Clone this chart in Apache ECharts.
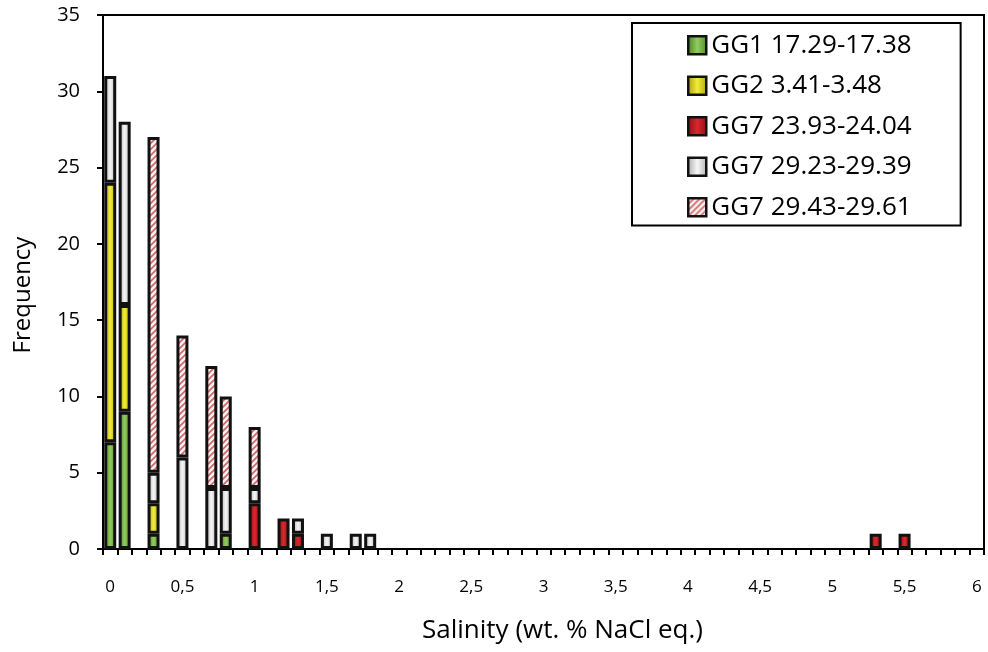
<!DOCTYPE html>
<html>
<head>
<meta charset="utf-8">
<script src="https://cdn.jsdelivr.net/npm/echarts@6/dist/echarts.min.js"></script>
<style>
html,body{margin:0;padding:0;background:#fff;}
#chart{width:988px;height:652px;}
</style>
</head>
<body>
<div id="chart"></div>
<script>
// x-axis categories (salinity bins, wt.% NaCl eq.)
const categories = [
  '0','0,1','0,2','0,3','0,4','0,5','0,6','0,7','0,8','0,9',
  '1','1,1','1,2','1,3','1,4','1,5','1,6','1,7','1,8','1,9',
  '2','2,1','2,2','2,3','2,4','2,5','2,6','2,7','2,8','2,9',
  '3','3,1','3,2','3,3','3,4','3,5','3,6','3,7','3,8','3,9',
  '4','4,1','4,2','4,3','4,4','4,5','4,6','4,7','4,8','4,9',
  '5','5,1','5,2','5,3','5,4','5,5','5,6','5,7','5,8','5,9',
  '6'
];
// bins that hold data
const bins   = ['0','0,1','0,3','0,5','0,7','0,8','1','1,2','1,3','1,5','1,7','1,8','5,3','5,5'];
const gg1    = [7, 9, 1, 0, 0, 1, 0, 0, 0, 0, 0, 0, 0, 0];
const gg2    = [17, 7, 2, 0, 0, 0, 0, 0, 0, 0, 0, 0, 0, 0];
const gg7a   = [0, 0, 0, 0, 0, 0, 3, 2, 1, 0, 0, 0, 1, 1];
const gg7b   = [7, 12, 2, 6, 4, 3, 1, 0, 1, 1, 1, 1, 0, 0];
const gg7c   = [0, 0, 22, 8, 8, 6, 4, 0, 0, 0, 0, 0, 0, 0];
const seriesNames = ['GG1 17.29-17.38','GG2 3.41-3.48','GG7 23.93-24.04','GG7 29.23-29.39','GG7 29.43-29.61'];
const yTicks = [0, 5, 10, 15, 20, 25, 30, 35];

const FONT = 'Open Sans';

function grad(edge, mid, edge2) {
  return new echarts.graphic.LinearGradient(0, 0, 1, 0, [
    {offset: 0, color: edge}, {offset: 0.5, color: mid}, {offset: 1, color: edge2}
  ]);
}
function hatchPattern() {
  const c = document.createElement('canvas');
  c.width = 6; c.height = 6;
  const g = c.getContext('2d');
  g.fillStyle = '#f7f2f2';
  g.fillRect(0, 0, 6, 6);
  g.strokeStyle = '#d06464';
  g.lineWidth = 1.6;
  g.beginPath();
  g.moveTo(-1, 7); g.lineTo(7, -1);
  g.moveTo(-4, 4); g.lineTo(4, -4);
  g.moveTo(2, 10); g.lineTo(10, 2);
  g.stroke();
  return {image: c, repeat: 'repeat'};
}

const fills = [
  grad('#3f7d20', '#93cc5e', '#4a8a2a'),
  grad('#a39b00', '#f1ec3c', '#aea600'),
  grad('#870c10', '#d9272d', '#8e0e12'),
  grad('#a6a6a6', '#f6f6f6', '#b0b0b0'),
  hatchPattern()
];
const values = [gg1, gg2, gg7a, gg7b, gg7c];

const series = seriesNames.map((name, i) => ({
  name: name,
  type: 'bar',
  stack: 'all',
  barWidth: 12,
  itemStyle: {color: fills[i], borderColor: '#111', borderWidth: 3},
  data: bins.map((b, j) => [b, values[i][j] === 0 ? null : values[i][j]])
}));

const chart = echarts.init(document.getElementById('chart'), null, {renderer: 'canvas'});
chart.setOption({
  animation: false,
  backgroundColor: '#fff',
  textStyle: {fontFamily: FONT},
  grid: {left: 103, right: 4, top: 15, bottom: 103, show: true, borderColor: '#000', borderWidth: 2, backgroundColor: 'transparent'},
  legend: {
    orient: 'vertical',
    left: 632, top: 23,
    padding: [7, 49, 3, 55],
    itemWidth: 18, itemHeight: 18,
    itemGap: 10,
    borderColor: '#000', borderWidth: 2,
    backgroundColor: '#fff',
    icon: 'rect',
    itemStyle: {borderColor: '#111', borderWidth: 2.5},
    textStyle: {fontFamily: FONT, fontSize: 26, color: '#000', lineHeight: 30.5},
    data: seriesNames
  },
  xAxis: {
    type: 'category',
    data: categories,
    boundaryGap: true,
    name: 'Salinity (wt. % NaCl eq.)',
    nameLocation: 'middle',
    nameGap: 69,
    nameTextStyle: {fontFamily: FONT, fontSize: 26, color: '#000', padding: [0, 0, 0, 38]},
    axisLine: {lineStyle: {color: '#000', width: 2}},
    axisTick: {show: true, interval: 0, length: 6, lineStyle: {color: '#000', width: 2}},
    axisLabel: {interval: 4, margin: 30, fontFamily: FONT, fontSize: 17, color: '#000'},
    splitLine: {show: false}
  },
  yAxis: {
    type: 'value',
    min: yTicks[0], max: yTicks[yTicks.length - 1], interval: 5,
    name: 'Frequency',
    nameLocation: 'middle',
    nameGap: 68,
    nameRotate: 90,
    nameTextStyle: {fontFamily: FONT, fontSize: 24, color: '#000', padding: [0, 26, 0, 0]},
    axisLine: {show: true, lineStyle: {color: '#000', width: 2}},
    axisTick: {show: true, length: 6, lineStyle: {color: '#000', width: 2}},
    axisLabel: {margin: 23, fontFamily: FONT, fontSize: 20, color: '#000'},
    splitLine: {show: false}
  },
  series: series
});
</script>
</body>
</html>
